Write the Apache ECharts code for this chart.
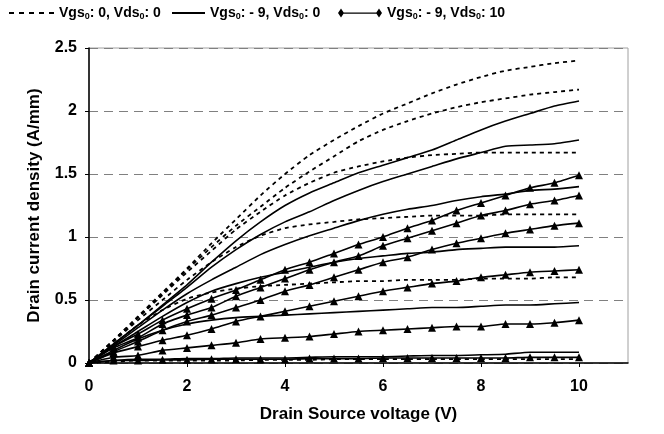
<!DOCTYPE html>
<html>
<head>
<meta charset="utf-8">
<script src="https://cdn.jsdelivr.net/npm/echarts@6/dist/echarts.min.js"></script>
<style>
html,body{margin:0;padding:0;background:#fff;}
#chart{width:664px;height:434px;}
</style>
</head>
<body>
<div id="chart"></div>
<script>
// ---- data ----
var xValues = [0,0.5,1,1.5,2,2.5,3,3.5,4,4.5,5,5.5,6,6.5,7,7.5,8,8.5,9,9.5,10];
var xTickLabels = [0,2,4,6,8,10];
var seriesNames = ['Vgs0: 0, Vds0: 0', 'Vgs0: - 9, Vds0: 0', 'Vgs0: - 9, Vds0: 10'];

// Vgs0: 0, Vds0: 0 (dashed)
var dashed1 = [0,0.18,0.37,0.56,0.75,0.95,1.14,1.33,1.5,1.65,1.77,1.88,1.98,2.06,2.14,2.21,2.27,2.32,2.35,2.38,2.40];
var dashed2 = [0,0.18,0.36,0.55,0.74,0.92,1.09,1.24,1.39,1.52,1.64,1.76,1.85,1.92,1.98,2.03,2.07,2.10,2.13,2.15,2.17];
var dashed3 = [0,0.18,0.36,0.54,0.72,0.89,1.06,1.20,1.33,1.43,1.51,1.56,1.60,1.63,1.65,1.66,1.67,1.67,1.67,1.67,1.67];
var dashed4 = [0,0.17,0.34,0.50,0.66,0.80,0.92,1.01,1.07,1.10,1.12,1.14,1.15,1.16,1.17,1.17,1.17,1.18,1.18,1.18,1.18];
var dashed5 = [0,0.15,0.30,0.42,0.51,0.56,0.59,0.61,0.62,0.63,0.64,0.65,0.65,0.66,0.66,0.66,0.67,0.67,0.67,0.68,0.68];
var dashed6 = [0,0.01,0.02,0.02,0.02,0.02,0.02,0.025,0.025,0.025,0.03,0.03,0.03,0.03,0.03,0.03,0.03,0.03,0.03,0.03,0.03];

// Vgs0: -9, Vds0: 0 (solid)
var solid1 = [0,0.15,0.30,0.46,0.62,0.80,0.97,1.12,1.25,1.35,1.43,1.51,1.57,1.63,1.69,1.77,1.85,1.92,1.98,2.04,2.08];
var solid2 = [0,0.15,0.30,0.45,0.60,0.76,0.90,1.02,1.12,1.20,1.29,1.37,1.44,1.50,1.56,1.62,1.67,1.72,1.73,1.74,1.77];
var solid3 = [0,0.14,0.28,0.42,0.55,0.66,0.76,0.86,0.94,1.01,1.07,1.13,1.18,1.22,1.25,1.29,1.32,1.34,1.37,1.38,1.40];
var solid4 = [0,0.13,0.25,0.37,0.48,0.57,0.63,0.68,0.72,0.76,0.80,0.83,0.85,0.87,0.88,0.90,0.91,0.92,0.92,0.92,0.93];
var solid5 = [0,0.10,0.19,0.26,0.31,0.34,0.36,0.37,0.38,0.39,0.40,0.41,0.42,0.43,0.44,0.44,0.45,0.46,0.46,0.47,0.48];
var solid6 = [0,0.02,0.03,0.03,0.035,0.035,0.04,0.04,0.04,0.045,0.05,0.05,0.05,0.055,0.06,0.06,0.065,0.07,0.085,0.085,0.085];

// Vgs0: -9, Vds0: 10 (solid with triangles)
var tri1 = [0,0.13,0.23,0.34,0.43,0.51,0.58,0.66,0.74,0.80,0.87,0.94,1.00,1.07,1.13,1.21,1.27,1.33,1.39,1.43,1.49];
var tri2 = [0,0.12,0.20,0.31,0.38,0.44,0.53,0.60,0.67,0.74,0.80,0.85,0.93,0.99,1.05,1.11,1.17,1.21,1.26,1.29,1.33];
var tri3 = [0,0.09,0.17,0.26,0.33,0.38,0.44,0.50,0.57,0.62,0.68,0.74,0.80,0.84,0.90,0.95,0.99,1.03,1.06,1.09,1.11];
var tri4 = [0,0.08,0.13,0.18,0.22,0.27,0.33,0.37,0.41,0.45,0.49,0.53,0.57,0.60,0.63,0.65,0.68,0.70,0.72,0.73,0.74];
var tri5 = [0,0.045,0.06,0.10,0.12,0.14,0.16,0.19,0.20,0.21,0.23,0.25,0.26,0.27,0.28,0.29,0.29,0.31,0.31,0.32,0.34];
var tri6 = [0,0.02,0.02,0.025,0.025,0.03,0.03,0.03,0.03,0.035,0.035,0.035,0.04,0.04,0.04,0.04,0.04,0.04,0.045,0.045,0.045];

var dashedSet = [dashed1,dashed2,dashed3,dashed4,dashed5,dashed6];
var solidSet = [solid1,solid2,solid3,solid4,solid5,solid6];
var triSet = [tri1,tri2,tri3,tri4,tri5,tri6];

function pairs(ys){ return ys.map(function(y,i){ return [xValues[i], y]; }); }

var series = [];
dashedSet.forEach(function(ys){
  series.push({type:'line', name:seriesNames[0], data:pairs(ys), showSymbol:false, symbol:'none',
    lineStyle:{color:'#000', width:1.8, type:[4,4]}, itemStyle:{color:'#000'}, smooth:0.2});
});
solidSet.forEach(function(ys){
  series.push({type:'line', name:seriesNames[1], data:pairs(ys), showSymbol:false, symbol:'none',
    lineStyle:{color:'#000', width:1.6}, itemStyle:{color:'#000'}, smooth:0.2});
});
triSet.forEach(function(ys){
  series.push({type:'line', name:seriesNames[2], data:pairs(ys), symbol:'triangle', symbolSize:8,
    lineStyle:{color:'#000', width:1.6}, itemStyle:{color:'#000', borderWidth:0}, smooth:0.2});
});

var FONT = 'Liberation Sans, Arial, sans-serif';
function legendFmt(name){ return '{t|' + name.replace(/(V[gd]s)0/g, '$1}{s|0}{t|') + '}'; }
var legendText = {
  color:'#000',
  rich:{
    t:{fontFamily:FONT, fontSize:14, fontWeight:'bold', color:'#000', lineHeight:16},
    s:{fontFamily:FONT, fontSize:9, fontWeight:'bold', color:'#000', lineHeight:16, verticalAlign:'bottom'}
  }
};
function mkLegend(name, left, w, h, icon){
  return {
    data:[{name:name, icon:icon}], left:left, top:6, padding:0, itemWidth:w, itemHeight:h, itemGap:0,
    selectedMode:false, formatter:legendFmt, textStyle:legendText, itemStyle:{borderWidth:0}
  };
}

var option = {
  animation:false,
  backgroundColor:'#fff',
  legend:[
    mkLegend(seriesNames[0], 9, 45, 2, 'path://M0 0H5V2H0Z M10 0H15V2H10Z M20 0H25V2H20Z M30 0H35V2H30Z M40 0H45V2H40Z'),
    mkLegend(seriesNames[1], 172, 33, 2, 'path://M0 0H33V2H0Z'),
    mkLegend(seriesNames[2], 338, 44, 9, 'path://M0 4.5L3 0L6 4.5L3 9Z M38 4.5L41 0L44 4.5L41 9Z M3 4H41V5.2H3Z')
  ],
  grid:{left:89, right:36, top:48, bottom:71, show:true, borderColor:'#a0a0a0', borderWidth:1, backgroundColor:'transparent'},
  xAxis:{
    type:'value', min:0, max:11, interval:1,
    name:'Drain Source voltage (V)', nameLocation:'middle', nameGap:43,
    nameTextStyle:{fontFamily:FONT, fontSize:17, fontWeight:'bold', color:'#000'},
    axisLine:{show:true, onZero:false, lineStyle:{color:'#000', width:1.5}},
    axisTick:{show:true, length:4, lineStyle:{color:'#000'}, customValues:xTickLabels},
    axisLabel:{fontFamily:FONT, fontSize:16, fontWeight:'bold', color:'#000', margin:16, customValues:xTickLabels},
    splitLine:{show:false}
  },
  yAxis:{
    type:'value', min:0, max:2.5, interval:0.5,
    name:'Drain current density (A/mm)', nameLocation:'middle', nameGap:46,
    nameTextStyle:{fontFamily:FONT, fontSize:17, fontWeight:'bold', color:'#000'},
    axisLine:{show:true, lineStyle:{color:'#000', width:1.5}},
    axisTick:{show:true, length:4, lineStyle:{color:'#000'}},
    axisLabel:{fontFamily:FONT, fontSize:16, fontWeight:'bold', color:'#000', margin:12},
    splitLine:{show:true, lineStyle:{color:'#808080', width:1, type:[9,6]}}
  },
  series:series
};

var chart = echarts.init(document.getElementById('chart'), null, {renderer:'canvas'});
chart.setOption(option);
</script>
</body>
</html>
